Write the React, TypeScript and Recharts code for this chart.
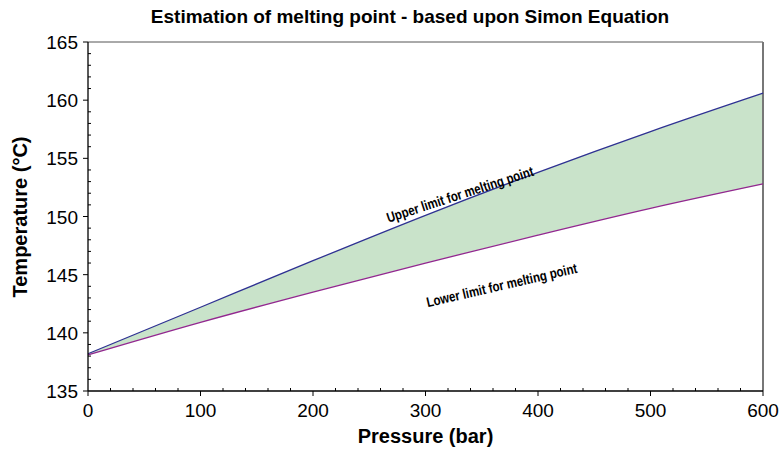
import React from "react";
import {
  Area,
  ComposedChart,
  Line,
  ReferenceDot,
  ReferenceLine,
  XAxis,
  YAxis
} from "recharts";

// pressure (bar) and the two melting point limits (°C)
const PRESSURE = [0, 100, 200, 300, 400, 500, 600];
const UPPER = [138.2, 142.2, 146.2, 150.1, 153.8, 157.3, 160.6];
const LOWER = [138.1, 140.9, 143.5, 146.0, 148.4, 150.7, 152.8];

const X_MAJOR = [0, 100, 200, 300, 400, 500, 600];
const Y_MAJOR = [135, 140, 145, 150, 155, 160, 165];
const X_TICKS = Array.from({ length: 31 }, (_, i) => i * 20);
const Y_TICKS = Array.from({ length: 31 }, (_, i) => 135 + i);

const FONT = "'Liberation Sans', Arial, Helvetica, sans-serif";
const FILL = "#c9e3ca";

const data = PRESSURE.map((p, i) => ({
  p,
  upper: UPPER[i],
  lower: LOWER[i],
  band: [LOWER[i], UPPER[i]]
}));

function XTick(props: any) {
  const { x, y, payload } = props;
  const major = X_MAJOR.includes(payload.value);
  if (!major) return <line x1={x} y1={y} x2={x} y2={y - 3} stroke="#000" />;
  return (
    <g>
      <line x1={x} y1={y} x2={x} y2={y + 5} stroke="#000" />
      <text x={x} y={y + 26} textAnchor="middle" fontSize={19} fontFamily={FONT} fill="#000">
        {payload.value}
      </text>
    </g>
  );
}

function YTick(props: any) {
  const { x, y, payload } = props;
  const major = Y_MAJOR.includes(payload.value);
  if (!major) return <line x1={x} y1={y} x2={x + 3} y2={y} stroke="#000" />;
  return (
    <g>
      <line x1={x - 5} y1={y} x2={x} y2={y} stroke="#000" />
      <text x={x - 10} y={y + 7} textAnchor="end" fontSize={19} fontFamily={FONT} fill="#000">
        {payload.value}
      </text>
    </g>
  );
}

// condensed, rotated annotation placed in data space
const note = (text: string, angle: number) => (props: any) => (
  <text
    x={0}
    y={0}
    transform={`translate(${props.cx} ${props.cy}) rotate(${angle}) scale(0.82 1)`}
    textAnchor="middle"
    dominantBaseline="middle"
    fontSize={14}
    fontWeight="bold"
    fontFamily={FONT}
    fill="#000"
  >
    {text}
  </text>
);

export default function App() {
  return (
    <div style={{ position: "absolute", left: 0, top: 0, width: 782, height: 452, background: "#fff" }}>
      <div
        style={{
          position: "absolute",
          left: 0,
          width: 820,
          top: 6,
          textAlign: "center",
          fontFamily: FONT,
          fontWeight: "bold",
          fontSize: 19
        }}
      >
        Estimation of melting point - based upon Simon Equation
      </div>
      <div
        style={{
          position: "absolute",
          left: 88,
          width: 675,
          top: 425,
          textAlign: "center",
          fontFamily: FONT,
          fontWeight: "bold",
          fontSize: 20
        }}
      >
        Pressure (bar)
      </div>
      <div
        style={{
          position: "absolute",
          left: 20,
          top: 217,
          transform: "translate(-50%, -50%) rotate(-90deg)",
          whiteSpace: "nowrap",
          fontFamily: FONT,
          fontWeight: "bold",
          fontSize: 20
        }}
      >
        Temperature (°C)
      </div>
      <ComposedChart
        width={782}
        height={452}
        data={data}
        margin={{ top: 42, right: 19, left: 0, bottom: 0 }}
        style={{ position: "absolute", left: 0, top: 0 }}
      >
        <XAxis
          dataKey="p"
          type="number"
          domain={[0, 600]}
          ticks={X_TICKS}
          interval={0}
          height={61}
          tickSize={0}
          tickMargin={0}
          tickLine={false}
          tick={<XTick />}
          axisLine={{ stroke: "#000", strokeWidth: 1.3 }}
        />
        <YAxis
          type="number"
          domain={[135, 165]}
          ticks={Y_TICKS}
          interval={0}
          width={88}
          tickSize={0}
          tickMargin={0}
          tickLine={false}
          tick={<YTick />}
          axisLine={{ stroke: "#000", strokeWidth: 1.3 }}
        />
        <ReferenceLine y={165} stroke="#555" strokeWidth={1} />
        <ReferenceLine x={600} stroke="#777" strokeWidth={2} />
        <Area type="monotone" dataKey="band" fill={FILL} fillOpacity={1} stroke="none" isAnimationActive={false} />
        <Line type="monotone" dataKey="upper" stroke="#2e3192" strokeWidth={1.3} dot={false} isAnimationActive={false} />
        <Line type="monotone" dataKey="lower" stroke="#92278f" strokeWidth={1.3} dot={false} isAnimationActive={false} />
        <ReferenceDot x={331} y={151.8} r={0} shape={note("Upper limit for melting point", -18)} />
        <ReferenceDot x={368} y={144} r={0} shape={note("Lower limit for melting point", -13)} />
      </ComposedChart>
    </div>
  );
}
